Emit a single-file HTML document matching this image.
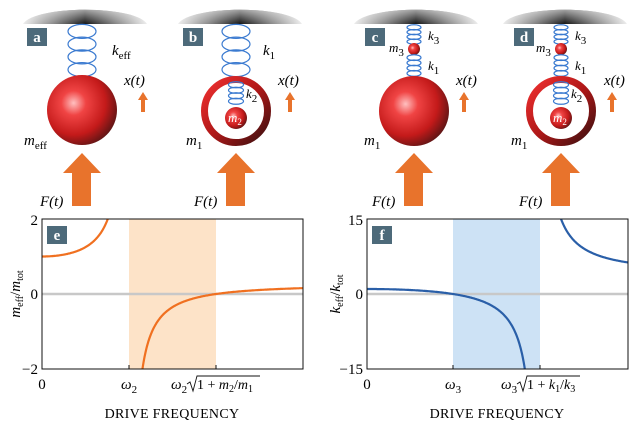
<!DOCTYPE html>
<html><head><meta charset="utf-8"><style>
html,body{margin:0;padding:0;background:#fff}
svg{display:block}
text{font-family:"Liberation Serif",serif}
.it{font-style:italic}
</style></head><body>
<svg id="s" width="636" height="430" viewBox="0 0 636 430" xmlns="http://www.w3.org/2000/svg">
<defs>
<linearGradient id="ceil" x1="0" y1="0" x2="1" y2="0">
<stop offset="0" stop-color="#eeeeee"/><stop offset="0.25" stop-color="#888"/><stop offset="0.5" stop-color="#151515"/><stop offset="0.75" stop-color="#888"/><stop offset="1" stop-color="#eeeeee"/>
</linearGradient>
<linearGradient id="ceilv" x1="0" y1="0" x2="0" y2="1">
<stop offset="0" stop-color="#fff" stop-opacity="0.6"/><stop offset="1" stop-color="#fff" stop-opacity="0"/>
</linearGradient>
<radialGradient id="ball" cx="0.38" cy="0.4" r="0.7">
<stop offset="0" stop-color="#ffc0c0"/><stop offset="0.25" stop-color="#f04444"/><stop offset="0.65" stop-color="#c41a1a"/><stop offset="1" stop-color="#4a1414"/>
</radialGradient>
<linearGradient id="ring" x1="0" y1="0" x2="1" y2="1">
<stop offset="0" stop-color="#f03030"/><stop offset="0.5" stop-color="#b01818"/><stop offset="1" stop-color="#3a1010"/>
</linearGradient>
</defs>
<g id="g"></g>
</svg>
<script>
const g=document.getElementById('g');let h='';
function ceil(cx){const d=`M${cx-62} 24 C${cx-50} 5 ${cx+50} 5 ${cx+62} 24 Z`;h+=`<path d="${d}" fill="url(#ceil)"/><path d="${d}" fill="url(#ceilv)"/>`;}
function spring(cx,y0,y1,w,n){const step=(y1-y0)/n;
 for(let i=0;i<n;i++){const cy=y0+step*(i+0.5);
  h+=`<ellipse cx="${cx}" cy="${cy}" rx="${w/2}" ry="${step*0.55}" fill="none" stroke="#3a7ad0" stroke-width="1.2"/>`;}
}
function label(x,y,t){h+=`<rect x="${x}" y="${y}" width="20" height="18" fill="#4d6a7a"/><text x="${x+10}" y="${y+14}" fill="#fff" font-weight="bold" font-size="15" text-anchor="middle">${t}</text>`;}
function bigArrow(cx){h+=`<path d="M${cx} 153 L${cx+19} 173 L${cx+9} 173 L${cx+9} 206 L${cx-10} 206 L${cx-10} 173 L${cx-19} 173 Z" fill="#e8732c"/>`;}
function smallArrow(cx,y){h+=`<path d="M${cx} ${y} L${cx+5} ${y+8} L${cx+2} ${y+8} L${cx+2} ${y+20} L${cx-2} ${y+20} L${cx-2} ${y+8} L${cx-5} ${y+8} Z" fill="#e8732c"/>`;}
function T(x,y,s,sz){h+=`<text x="${x}" y="${y}" font-size="${sz||15}" class="it">${s}</text>`;}
const sub=(a,b)=>`${a}<tspan font-size="11" dy="4" font-style="normal">${b}</tspan>`;
ceil(85);label(27,28,'a');spring(82,25,76,28,4);
h+=`<circle cx="82" cy="110" r="35" fill="url(#ball)"/>`;
T(112,55,sub('k','eff'));T(124,85,'x(t)');smallArrow(143,92);
T(24,145,sub('m','eff'));bigArrow(82);T(40,206,'F(t)');
ceil(240);label(183,28,'b');spring(236,25,76,28,4);
h+=`<circle cx="236" cy="111" r="31.5" fill="none" stroke="url(#ring)" stroke-width="7"/>`;
spring(236,82,104,15,4);h+=`<circle cx="236" cy="118" r="11" fill="url(#ball)"/>`;
h+=`<text x="228" y="122" font-size="13" class="it" fill="#fff">m<tspan font-size="9" dy="3" font-style="normal">2</tspan></text>`;
T(263,55,sub('k','1'));T(278,85,'x(t)');smallArrow(290,92);T(246,98,sub('k','2'),13);
T(186,145,sub('m','1'));bigArrow(236);T(194,206,'F(t)');
ceil(416);label(365,28,'c');spring(414,25,44,14,4);h+=`<circle cx="414" cy="49" r="6" fill="url(#ball)"/>`;spring(414,55,76,14,4);
h+=`<circle cx="414" cy="111" r="35" fill="url(#ball)"/>`;
T(428,40,sub('k','3'),13);T(428,70,sub('k','1'),13);T(389,52,sub('m','3'),13);
T(456,85,'x(t)');smallArrow(464,92);T(364,145,sub('m','1'));bigArrow(414);T(372,206,'F(t)');
ceil(565);label(514,28,'d');spring(561,25,44,14,4);h+=`<circle cx="561" cy="49" r="6" fill="url(#ball)"/>`;spring(561,55,76,14,4);
h+=`<circle cx="561" cy="111" r="31.5" fill="none" stroke="url(#ring)" stroke-width="7"/>`;
spring(561,82,104,15,4);h+=`<circle cx="561" cy="118" r="11" fill="url(#ball)"/>`;
h+=`<text x="553" y="122" font-size="13" class="it" fill="#fff">m<tspan font-size="9" dy="3" font-style="normal">2</tspan></text>`;
T(575,40,sub('k','3'),13);T(575,70,sub('k','1'),13);T(536,52,sub('m','3'),13);T(571,98,sub('k','2'),13);
T(604,85,'x(t)');smallArrow(612,92);T(511,145,sub('m','1'));bigArrow(561);T(519,206,'F(t)');

function plot(x0,x1,sx0,sx1,col,shade,fn,pw,ymax,tl){
 const yt=219,yb=369,y0=294,sc=75/ymax;
 h+=`<rect x="${sx0}" y="${yt}" width="${sx1-sx0}" height="${yb-yt}" fill="${shade}"/>`;
 h+=`<line x1="${x0}" y1="${y0}" x2="${x1}" y2="${y0}" stroke="#c8c8c8" stroke-width="2.5"/>`;
 let segs=[],cur=[];
 for(let px=x0;px<=x1;px+=0.5){const s=(px-x0)/pw;const v=fn(s);
  if(!isFinite(v)||Math.abs(v)>ymax*1.05){if(cur.length){segs.push(cur);cur=[];}continue;}
  cur.push([px,y0-v*sc]);}
 if(cur.length)segs.push(cur);
 h+=`<clipPath id="c${x0}"><rect x="${x0}" y="${yt}" width="${x1-x0}" height="${yb-yt}"/></clipPath>`;
 for(const sg of segs){h+=`<path clip-path="url(#c${x0})" d="M${sg.map(p=>p[0].toFixed(1)+' '+p[1].toFixed(1)).join(' L')}" fill="none" stroke="${col}" stroke-width="2.2"/>`;}
 h+=`<rect x="${x0}" y="${yt}" width="${x1-x0}" height="${yb-yt}" fill="none" stroke="#111" stroke-width="1"/>`;
 for(const xx of [x0,sx0,sx1])h+=`<line x1="${xx}" y1="${yb}" x2="${xx}" y2="${yb-4}" stroke="#111"/>`;
 h+=`<text x="${x0-4}" y="${yt+6}" font-size="15" text-anchor="end">${tl[0]}</text>`;
 h+=`<text x="${x0-4}" y="${y0+5}" font-size="15" text-anchor="end">0</text>`;
 h+=`<text x="${x0-4}" y="${yb+5}" font-size="15" text-anchor="end">${tl[1]}</text>`;
 h+=`<text x="${x0}" y="389" font-size="15" text-anchor="middle">0</text>`;
}
plot(42,303,129,216,'#f07020','#fde3c8',s=>0.25+0.75/(1-s*s),87,2,['2','−2']);
plot(367,628,453,540,'#2a5fa8','#cde2f5',s=>4*(1-s*s)/(4-s*s),86,15,['15','−15']);
label(47,226,'e');label(372,226,'f');
h+=`<text x="121" y="389" font-size="15" class="it">ω<tspan font-size="11" dy="4" font-style="normal">2</tspan></text>`;
h+=`<text x="171" y="389" font-size="15" class="it">ω<tspan font-size="11" dy="4" font-style="normal">2</tspan></text>`;
h+=`<path d="M187 384 L190 382 L193 391 L197 376 L260 376" fill="none" stroke="#111" stroke-width="0.9"/>`;
h+=`<text x="197" y="389" font-size="14">1 + <tspan class="it">m</tspan><tspan font-size="10" dy="3">2</tspan><tspan dy="-3">/</tspan><tspan class="it">m</tspan><tspan font-size="10" dy="3">1</tspan></text>`;
h+=`<text x="172" y="418" font-size="14" text-anchor="middle" letter-spacing="0.3">DRIVE FREQUENCY</text>`;
h+=`<text x="445" y="389" font-size="15" class="it">ω<tspan font-size="11" dy="4" font-style="normal">3</tspan></text>`;
h+=`<text x="501" y="389" font-size="15" class="it">ω<tspan font-size="11" dy="4" font-style="normal">3</tspan></text>`;
h+=`<path d="M517 384 L520 382 L523 391 L527 376 L580 376" fill="none" stroke="#111" stroke-width="0.9"/>`;
h+=`<text x="527" y="389" font-size="14">1 + <tspan class="it">k</tspan><tspan font-size="10" dy="3">1</tspan><tspan dy="-3">/</tspan><tspan class="it">k</tspan><tspan font-size="10" dy="3">3</tspan></text>`;
h+=`<text x="497" y="418" font-size="14" text-anchor="middle" letter-spacing="0.3">DRIVE FREQUENCY</text>`;
h+=`<text transform="translate(20,294) rotate(-90)" font-size="15" text-anchor="middle" class="it">m<tspan font-size="10" dy="3" font-style="normal">eff</tspan><tspan dy="-3" font-style="normal">/</tspan>m<tspan font-size="10" dy="3" font-style="normal">tot</tspan></text>`;
h+=`<text transform="translate(340,294) rotate(-90)" font-size="15" text-anchor="middle" class="it">k<tspan font-size="10" dy="3" font-style="normal">eff</tspan><tspan dy="-3" font-style="normal">/</tspan>k<tspan font-size="10" dy="3" font-style="normal">tot</tspan></text>`;
g.innerHTML=h;
</script>
</body></html>
